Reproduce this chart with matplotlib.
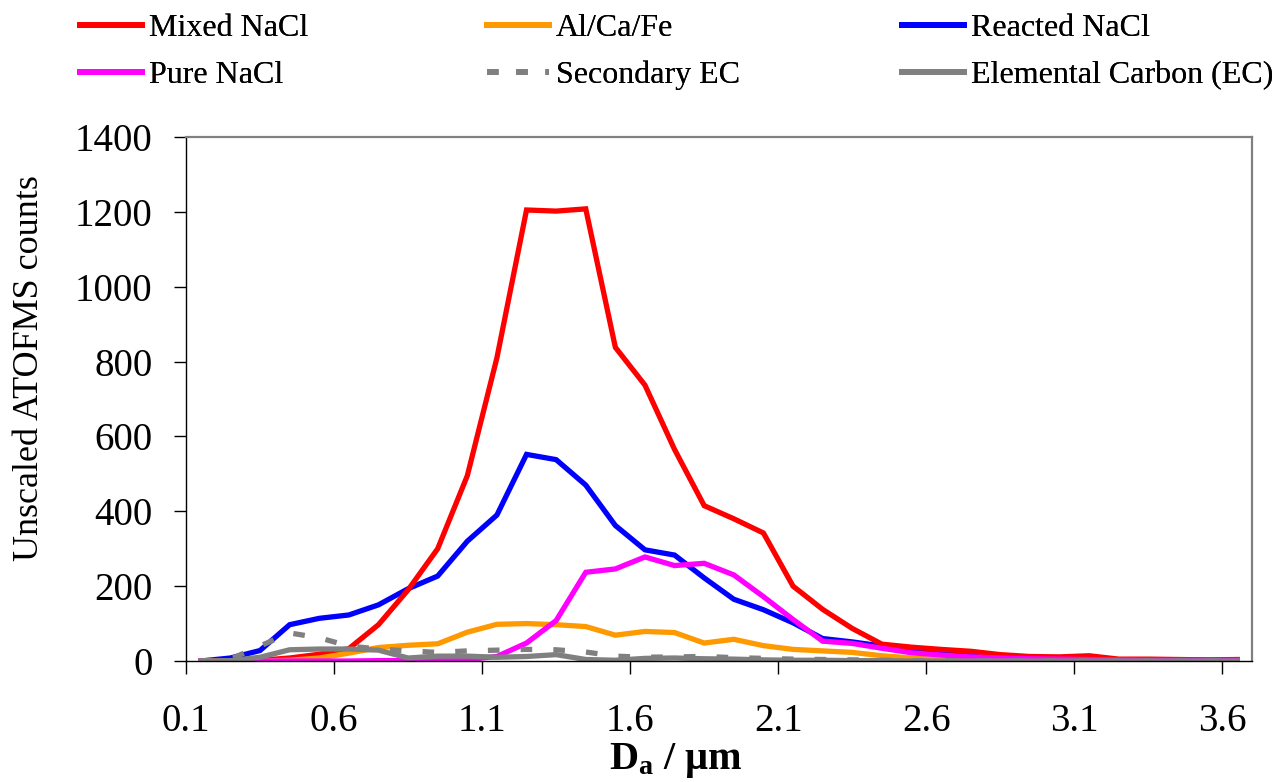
import matplotlib
matplotlib.use("Agg")
import matplotlib.pyplot as plt
from matplotlib.lines import Line2D

plt.rcParams['font.family'] = ['Liberation Serif', 'DejaVu Serif']
plt.rcParams['mathtext.fontset'] = 'custom'
plt.rcParams['mathtext.rm'] = 'Liberation Serif'
plt.rcParams['mathtext.bf'] = 'Liberation Serif:bold'
plt.rcParams['mathtext.it'] = 'Liberation Serif:italic'

# size bins (µm)
diam = [0.15, 0.25, 0.35, 0.45, 0.55, 0.65, 0.75, 0.85, 0.95, 1.05,
        1.15, 1.25, 1.35, 1.45, 1.55, 1.65, 1.75, 1.85, 1.95, 2.05,
        2.15, 2.25, 2.35, 2.45, 2.55, 2.65, 2.75, 2.85, 2.95, 3.05,
        3.15, 3.25, 3.35, 3.45, 3.55, 3.65]

mixed_nacl = [0, 0, 2, 8, 18, 33, 97, 190, 300, 495,
              810, 1205, 1202, 1208, 838, 737, 565, 415, 380, 342,
              200, 138, 87, 45, 37, 31, 26, 17, 12, 11,
              14, 5, 5, 4, 3, 4]
al_ca_fe = [0, 0, 0, 2, 8, 21, 36, 42, 46, 77,
            98, 100, 97, 92, 69, 79, 76, 48, 58, 41,
            31, 27, 23, 14, 8, 4, 3, 2, 2, 1,
            1, 1, 1, 1, 1, 1]
reacted_nacl = [0, 8, 28, 97, 114, 123, 150, 193, 227, 320,
                390, 552, 538, 470, 362, 297, 283, 222, 165, 137,
                102, 60, 51, 40, 29, 20, 14, 10, 8, 6,
                5, 3, 3, 2, 2, 2]
pure_nacl = [0, 0, 0, 0, 0, 0, 1, 1, 2, 4,
             12, 48, 108, 237, 246, 278, 255, 261, 230, 172,
             111, 53, 47, 34, 22, 16, 11, 8, 6, 5,
             4, 3, 2, 2, 2, 2]
secondary_ec = [0, 5, 40, 75, 62, 40, 32, 27, 23, 27,
                29, 31, 30, 24, 13, 10, 11, 12, 9, 7,
                5, 4, 3, 2, 1, 1, 0, 0, 0, 0,
                0, 0, 0, 0, 0, 0]
elemental_ec = [0, 1, 10, 30, 32, 32, 29, 8, 13, 13,
                10, 12, 17, 4, 2, 7, 8, 6, 5, 3,
                2, 2, 1, 1, 0, 0, 0, 0, 0, 0,
                0, 0, 0, 0, 0, 0]

labels = ["Mixed NaCl", "Al/Ca/Fe", "Reacted NaCl",
          "Pure NaCl", "Secondary EC", "Elemental Carbon (EC)"]
x_ticks = [0.1, 0.6, 1.1, 1.6, 2.1, 2.6, 3.1, 3.6]
y_ticks = [0, 200, 400, 600, 800, 1000, 1200, 1400]

RED, ORANGE, BLUE, MAGENTA, GRAY = "#FF0000", "#FF9900", "#0000FF", "#FF00FF", "#808080"

fig = plt.figure(figsize=(12.79, 7.82), dpi=100)
ax = fig.add_axes([186/1279, 1 - 661/782, (1252 - 186)/1279, (661 - 137)/782])

lw = 3.8
ax.plot(diam, reacted_nacl, color=BLUE, lw=lw, solid_joinstyle='miter')
ax.plot(diam, mixed_nacl, color=RED, lw=lw, solid_joinstyle='miter')
ax.plot(diam, al_ca_fe, color=ORANGE, lw=lw, solid_joinstyle='miter')
ax.plot(diam, pure_nacl, color=MAGENTA, lw=lw, solid_joinstyle='miter')
ax.plot(diam, secondary_ec, color=GRAY, lw=lw, dashes=(2.2, 4.0), dash_capstyle='butt')
ax.plot(diam, elemental_ec, color=GRAY, lw=lw, solid_joinstyle='miter')

ax.set_xlim(0.1, 3.7)
ax.set_ylim(0, 1400)
ax.set_xticks(x_ticks)
ax.set_xticklabels([f"{v:.1f}" for v in x_ticks])
ax.set_yticks(y_ticks)
ax.set_yticklabels([str(v) for v in y_ticks])
ax.tick_params(axis='both', direction='out', length=9, width=1.0, color='black',
               labelsize=28)
ax.tick_params(axis='y', pad=15)
ax.tick_params(axis='x', pad=21)
for side in ['left', 'bottom']:
    ax.spines[side].set_color('black')
    ax.spines[side].set_linewidth(1.0)
for side in ['top', 'right']:
    ax.spines[side].set_color(GRAY)
    ax.spines[side].set_linewidth(1.6)

fig.text(30/1279, 1 - 368/782, "Unscaled ATOFMS counts", rotation=90,
         ha='center', va='center', fontsize=26)
fig.text(676/1279, 13/782, r"$\mathbf{D_a}$ / µm", ha='center', va='baseline',
         fontsize=29, fontweight='bold')

legend_fs = 23
columns = [
    ([Line2D([], [], color=RED, lw=4.2), Line2D([], [], color=MAGENTA, lw=4.2)],
     [labels[0], labels[3]], 80),
    ([Line2D([], [], color=ORANGE, lw=4.2),
      Line2D([], [], color=GRAY, lw=4.2, dashes=(2.0, 3.0), dash_capstyle='butt')],
     [labels[1], labels[4]], 487),
    ([Line2D([], [], color=BLUE, lw=4.2), Line2D([], [], color=GRAY, lw=4.2)],
     [labels[2], labels[5]], 902),
]
for hs, ls, x0 in columns:
    leg = fig.legend(hs, ls, ncol=1, loc='upper left',
                     bbox_to_anchor=(x0/1279, 1 - 14/782),
                     frameon=False, fontsize=legend_fs, handlelength=1.95,
                     handletextpad=0.2, labelspacing=0.55, borderpad=0,
                     borderaxespad=0)
    fig.add_artist(leg)

fig.savefig("out.png", dpi=100, facecolor='white')
